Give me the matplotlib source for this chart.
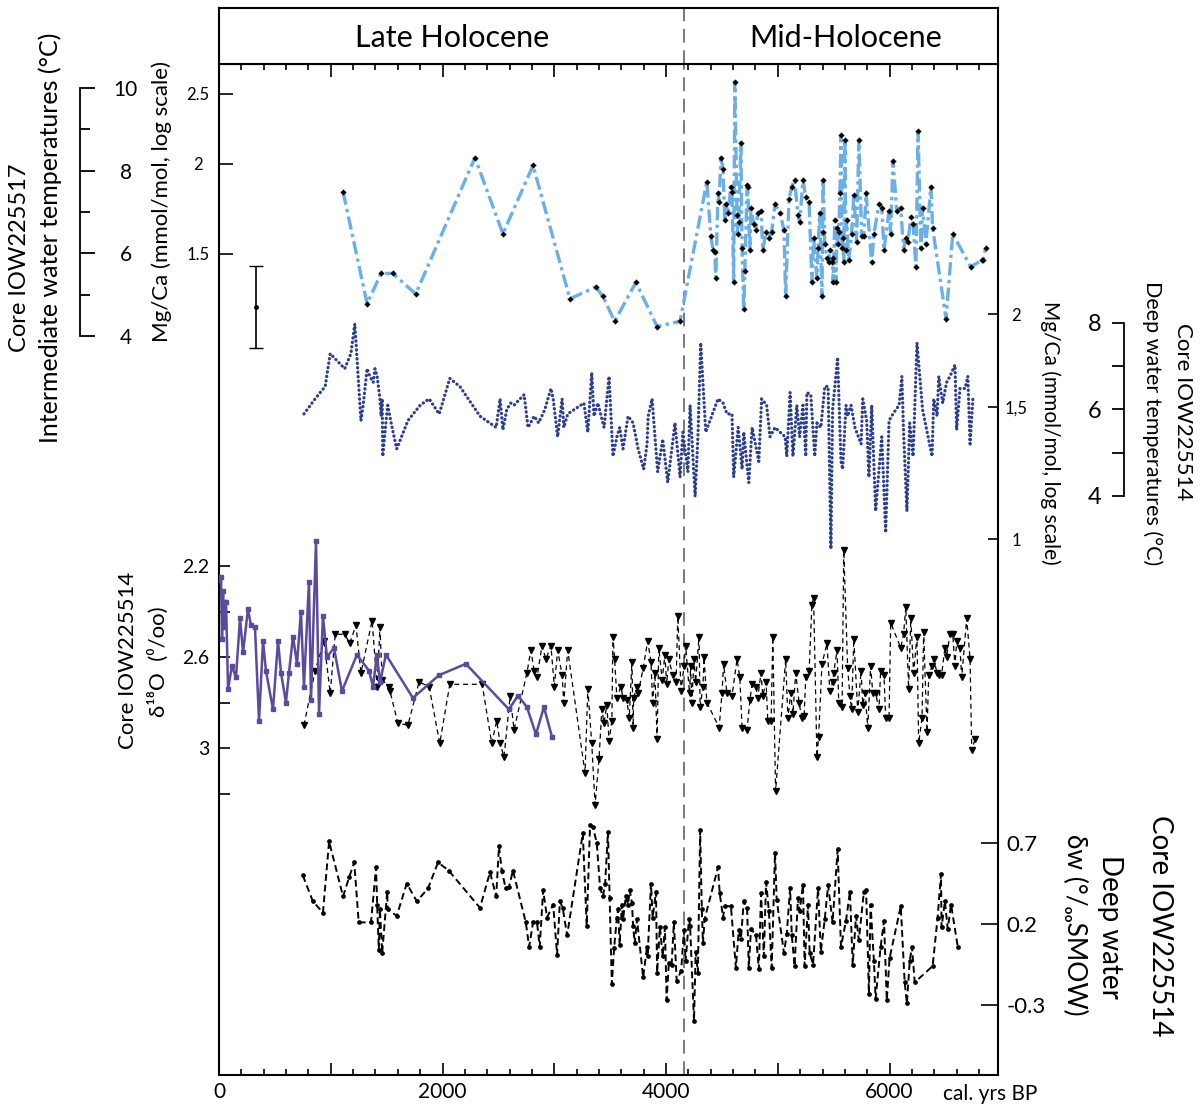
import numpy as np
import matplotlib
matplotlib.use('Agg')
import matplotlib.pyplot as plt
from matplotlib.ticker import FixedLocator, FuncFormatter, NullLocator

plt.rcParams['font.family'] = ['Lato', 'DejaVu Sans']

# --- data (cal. yrs BP) ---
# IOW225517 Mg/Ca (intermediate water)
LB_YEAR = [1110, 1325, 1450, 1555, 1760, 2290, 2540, 2810, 3140, 3370,
           3435, 3540, 3730, 3920, 4125, 4365, 4400, 4420, 4435, 4445,
           4465, 4475, 4490, 4510, 4525, 4535, 4555, 4580, 4590, 4605,
           4615, 4635, 4640, 4650, 4670, 4680, 4695, 4705, 4725, 4730,
           4750, 4760, 4785, 4805, 4820, 4850, 4865, 4895, 4920, 4945,
           4975, 5020, 5055, 5070, 5100, 5125, 5150, 5180, 5195, 5225,
           5250, 5280, 5305, 5320, 5350, 5360, 5375, 5395, 5400, 5405,
           5420, 5440, 5455, 5465, 5485, 5490, 5495, 5510, 5520, 5530,
           5535, 5545, 5555, 5565, 5575, 5580, 5590, 5600, 5610, 5615,
           5635, 5660, 5680, 5705, 5725, 5750, 5770, 5790, 5840, 5860,
           5905, 5930, 5950, 5995, 6010, 6030, 6065, 6100, 6125, 6145,
           6165, 6190, 6210, 6235, 6255, 6280, 6295, 6325, 6370, 6385,
           6505, 6565, 6725, 6825, 6835, 6860]
LB_MGCA = [1.83, 1.28, 1.41, 1.41, 1.32, 2.04, 1.60, 1.99, 1.30, 1.35,
           1.31, 1.21, 1.37, 1.19, 1.21, 1.89, 1.59, 1.52, 1.51, 1.39,
           1.82, 1.77, 2.04, 1.97, 1.67, 1.76, 1.71, 1.86, 1.83, 1.37,
           2.60, 1.70, 1.60, 1.66, 2.14, 1.53, 1.26, 1.42, 1.87, 1.86,
           1.52, 1.74, 1.65, 1.62, 1.71, 1.72, 1.52, 1.61, 1.58, 1.61,
           1.76, 1.71, 1.62, 1.31, 1.79, 1.86, 1.90, 1.70, 1.66, 1.90,
           1.80, 1.77, 1.37, 1.58, 1.39, 1.53, 1.71, 1.31, 1.61, 1.90,
           1.55, 1.48, 1.46, 1.52, 1.46, 1.48, 1.37, 1.67, 1.37, 1.63,
           1.55, 1.61, 1.82, 2.19, 1.53, 1.58, 1.46, 2.16, 1.52, 1.67,
           1.47, 1.60, 1.81, 1.56, 2.16, 1.59, 1.59, 1.82, 1.46, 1.60,
           1.76, 1.74, 1.52, 1.72, 1.60, 2.02, 1.72, 1.74, 1.52, 1.58,
           1.56, 1.69, 1.65, 1.44, 2.22, 1.53, 1.74, 1.55, 1.86, 1.63,
           1.22, 1.60, 1.44, 1.47, 1.47, 1.53]

# IOW225514 Mg/Ca (deep water)
DB_YEAR = [760, 860, 950, 995, 1125, 1180, 1215, 1270, 1290, 1325,
           1350, 1380, 1395, 1415, 1440, 1450, 1460, 1465, 1495, 1510,
           1540, 1590, 1690, 1800, 1880, 1970, 2065, 2155, 2335, 2480,
           2515, 2540, 2575, 2610, 2640, 2730, 2765, 2820, 2860, 2915,
           2970, 2990, 3030, 3070, 3085, 3120, 3265, 3300, 3335, 3355,
           3390, 3445, 3490, 3525, 3560, 3585, 3615, 3660, 3705, 3750,
           3800, 3830, 3840, 3875, 3925, 3970, 4015, 4080, 4125, 4150,
           4195, 4215, 4260, 4285, 4310, 4355, 4465, 4510, 4545, 4590,
           4605, 4645, 4680, 4695, 4740, 4770, 4830, 4855, 4900, 4930,
           4975, 5065, 5080, 5110, 5135, 5170, 5195, 5225, 5250, 5260,
           5295, 5330, 5350, 5385, 5420, 5450, 5475, 5490, 5535, 5565,
           5580, 5610, 5625, 5655, 5690, 5745, 5760, 5795, 5815, 5840,
           5875, 5930, 5965, 5995, 6030, 6085, 6110, 6125, 6155, 6180,
           6210, 6245, 6295, 6380, 6395, 6425, 6440, 6475, 6510, 6540,
           6585, 6600, 6630, 6675, 6700, 6720, 6745]
DB_MGCA = [1.47, 1.54, 1.60, 1.77, 1.69, 1.77, 1.94, 1.44, 1.51, 1.69,
           1.65, 1.62, 1.69, 1.65, 1.54, 1.46, 1.54, 1.29, 1.44, 1.51,
           1.43, 1.32, 1.44, 1.51, 1.54, 1.47, 1.64, 1.60, 1.46, 1.41,
           1.54, 1.40, 1.49, 1.52, 1.51, 1.56, 1.41, 1.46, 1.43, 1.49,
           1.59, 1.54, 1.37, 1.54, 1.41, 1.47, 1.52, 1.39, 1.67, 1.46,
           1.52, 1.41, 1.65, 1.29, 1.37, 1.41, 1.32, 1.46, 1.43, 1.32,
           1.24, 1.34, 1.46, 1.54, 1.23, 1.36, 1.19, 1.43, 1.21, 1.39,
           1.23, 1.51, 1.14, 1.37, 1.83, 1.39, 1.54, 1.52, 1.47, 1.47,
           1.21, 1.41, 1.24, 1.39, 1.19, 1.41, 1.27, 1.54, 1.51, 1.37,
           1.41, 1.37, 1.29, 1.57, 1.29, 1.51, 1.37, 1.51, 1.29, 1.57,
           1.56, 1.29, 1.43, 1.41, 1.60, 1.60, 0.97, 1.49, 1.75, 1.27,
           1.24, 1.51, 1.46, 1.51, 1.41, 1.34, 1.54, 1.44, 1.21, 1.51,
           1.09, 1.37, 1.02, 1.44, 1.47, 1.51, 1.65, 1.39, 1.09, 1.43,
           1.29, 1.83, 1.49, 1.29, 1.54, 1.46, 1.65, 1.52, 1.62, 1.65,
           1.71, 1.40, 1.59, 1.59, 1.65, 1.34, 1.54]

# IOW225514 d18O (triangles)
O18_YEAR = [760, 860, 940, 995, 1040, 1125, 1170, 1225, 1270, 1370,
            1415, 1440, 1460, 1520, 1530, 1600, 1690, 1790, 1880, 1975,
            2065, 2355, 2440, 2485, 2515, 2550, 2605, 2640, 2755, 2790,
            2820, 2845, 2890, 2925, 2970, 3000, 3030, 3070, 3085, 3120,
            3275, 3300, 3335, 3365, 3400, 3425, 3445, 3470, 3490, 3515,
            3525, 3540, 3560, 3595, 3615, 3650, 3670, 3695, 3705, 3710,
            3740, 3750, 3795, 3835, 3865, 3880, 3900, 3920, 3935, 3965,
            3990, 4005, 4025, 4060, 4090, 4105, 4135, 4160, 4175, 4210,
            4220, 4230, 4250, 4265, 4295, 4305, 4330, 4340, 4365, 4475,
            4500, 4515, 4545, 4590, 4635, 4660, 4680, 4725, 4750, 4770,
            4805, 4820, 4850, 4865, 4895, 4910, 4940, 4955, 4980, 5070,
            5090, 5115, 5135, 5160, 5190, 5215, 5235, 5250, 5280, 5305,
            5320, 5350, 5365, 5395, 5440, 5465, 5490, 5500, 5530, 5545,
            5575, 5590, 5625, 5645, 5660, 5680, 5715, 5745, 5760, 5780,
            5805, 5830, 5850, 5875, 5905, 5920, 5950, 5965, 5995, 6010,
            6100, 6125, 6145, 6170, 6190, 6215, 6245, 6260, 6290, 6305,
            6335, 6350, 6380, 6395, 6425, 6440, 6465, 6495, 6510, 6540,
            6565, 6585, 6600, 6630, 6645, 6690, 6720, 6735, 6765]
O18_VAL = [2.90, 2.66, 2.53, 2.76, 2.50, 2.50, 2.54, 2.46, 2.67, 2.44,
           2.73, 2.47, 2.70, 2.73, 2.75, 2.89, 2.90, 2.71, 2.73, 2.98,
           2.72, 2.72, 2.98, 2.88, 2.98, 3.04, 2.77, 2.92, 2.67, 2.57,
           2.66, 2.69, 2.55, 2.61, 2.55, 2.73, 2.57, 2.68, 2.80, 2.57,
           3.11, 2.74, 2.98, 3.25, 3.05, 2.83, 2.89, 2.81, 2.97, 2.88,
           2.51, 2.61, 2.78, 2.73, 2.78, 2.79, 2.87, 2.62, 2.91, 2.78,
           2.73, 2.76, 2.65, 2.53, 2.62, 2.80, 2.67, 2.96, 2.56, 2.70,
           2.59, 2.72, 2.61, 2.68, 2.71, 2.42, 2.75, 2.64, 2.55, 2.76,
           2.64, 2.80, 2.61, 2.71, 2.51, 2.82, 2.73, 2.60, 2.80, 2.91,
           2.76, 2.63, 2.76, 2.77, 2.61, 2.69, 2.91, 2.92, 2.79, 2.72,
           2.73, 2.78, 2.67, 2.77, 2.71, 2.88, 2.88, 2.51, 3.19, 2.61,
           2.87, 2.76, 2.85, 2.67, 2.80, 2.87, 2.86, 2.69, 2.66, 2.37,
           2.34, 3.04, 2.95, 2.63, 2.54, 2.75, 2.71, 2.67, 2.57, 2.80,
           2.82, 2.13, 2.65, 2.77, 2.83, 2.52, 2.84, 2.66, 2.81, 2.76,
           2.91, 2.64, 2.76, 2.76, 2.83, 2.66, 2.68, 2.87, 2.87, 2.45,
           2.56, 2.50, 2.38, 2.74, 2.43, 2.67, 2.51, 2.98, 2.87, 2.49,
           2.93, 2.68, 2.64, 2.61, 2.67, 2.68, 2.68, 2.56, 2.60, 2.50,
           2.50, 2.64, 2.53, 2.56, 2.69, 2.43, 2.61, 3.01, 2.96]

# second d18O record (purple squares)
PU_YEAR = [0, 18, 27, 36, 45, 54, 63, 81, 116, 152,
           188, 215, 259, 286, 322, 358, 394, 420, 483, 528,
           555, 599, 626, 662, 698, 733, 760, 805, 823, 868,
           895, 930, 966, 1029, 1100, 1234, 1342, 1378, 1413, 1440,
           1494, 1735, 1968, 2209, 2594, 2675, 2755, 2836, 2907, 2979]
PU_VAL = [2.26, 2.25, 2.52, 2.31, 2.47, 2.36, 2.36, 2.74, 2.64, 2.69,
          2.43, 2.58, 2.39, 2.46, 2.47, 2.88, 2.53, 2.66, 2.83, 2.53,
          2.67, 2.80, 2.67, 2.51, 2.63, 2.40, 2.73, 2.27, 2.79, 2.09,
          2.85, 2.42, 2.60, 2.56, 2.75, 2.59, 2.66, 2.73, 2.59, 2.71,
          2.59, 2.78, 2.68, 2.63, 2.83, 2.77, 2.82, 2.94, 2.82, 2.95]

# IOW225514 deep water dw
DW_YEAR = [750, 840, 930, 985, 1110, 1165, 1210, 1250, 1360, 1405,
           1415, 1430, 1440, 1460, 1505, 1510, 1590, 1680, 1770, 1870,
           1960, 2055, 2335, 2425, 2480, 2505, 2530, 2565, 2595, 2630,
           2745, 2775, 2810, 2845, 2870, 2900, 2935, 2990, 3025, 3050,
           3075, 3115, 3255, 3290, 3320, 3345, 3380, 3410, 3435, 3455,
           3480, 3495, 3515, 3535, 3560, 3570, 3585, 3605, 3615, 3640,
           3660, 3675, 3695, 3705, 3720, 3740, 3795, 3830, 3835, 3865,
           3880, 3910, 3920, 3945, 3970, 3990, 4005, 4025, 4050, 4070,
           4095, 4135, 4160, 4175, 4205, 4215, 4250, 4265, 4285, 4305,
           4320, 4330, 4345, 4465, 4480, 4510, 4525, 4580, 4625, 4650,
           4670, 4695, 4725, 4740, 4760, 4805, 4830, 4850, 4875, 4895,
           4920, 4945, 4975, 4990, 5055, 5080, 5110, 5125, 5150, 5180,
           5195, 5225, 5240, 5270, 5285, 5315, 5360, 5385, 5420, 5450,
           5490, 5535, 5565, 5610, 5645, 5670, 5700, 5725, 5770, 5790,
           5815, 5830, 5860, 5875, 5920, 5950, 5975, 6000, 6100, 6135,
           6155, 6180, 6200, 6225, 6385, 6430, 6460, 6465, 6495, 6520,
           6550, 6610]
DW_VAL = [0.50, 0.34, 0.27, 0.71, 0.37, 0.49, 0.58, 0.21, 0.21, 0.55,
          0.32, 0.04, 0.29, 0.02, 0.40, 0.29, 0.25, 0.45, 0.34, 0.42,
          0.58, 0.53, 0.30, 0.52, 0.37, 0.68, 0.53, 0.42, 0.43, 0.53,
          0.21, 0.06, 0.21, 0.21, 0.06, 0.41, 0.24, 0.32, 0.01, 0.34,
          0.30, 0.13, 0.76, 0.19, 0.81, 0.80, 0.70, 0.42, 0.37, 0.45,
          0.77, 0.36, -0.17, 0.05, 0.24, 0.29, 0.07, 0.32, 0.23, 0.37,
          0.32, 0.41, 0.33, 0.19, 0.08, 0.23, -0.13, 0.06, 0.00, 0.45,
          0.24, 0.40, -0.10, 0.18, 0.00, 0.18, -0.27, -0.04, -0.05, 0.21,
          -0.15, -0.09, 0.16, -0.03, 0.23, 0.19, -0.40, 0.03, -0.10, 0.78,
          0.29, 0.08, 0.23, 0.55, 0.39, 0.24, 0.31, 0.31, -0.07, 0.16,
          0.11, 0.34, 0.30, -0.07, 0.17, 0.13, -0.08, 0.39, 0.00, 0.46,
          0.28, -0.07, 0.64, 0.35, 0.02, 0.14, 0.42, 0.13, -0.06, 0.36,
          0.28, 0.44, -0.06, 0.32, 0.02, -0.05, 0.42, 0.03, 0.23, 0.44,
          0.21, 0.66, 0.06, 0.22, 0.40, -0.05, 0.25, 0.10, 0.40, 0.41,
          -0.23, 0.32, -0.03, -0.26, 0.06, 0.22, -0.27, -0.01, 0.31, -0.16,
          -0.29, -0.03, 0.06, -0.16, -0.06, 0.24, 0.51, 0.18, 0.34, 0.17,
          0.32, 0.06]

# temperature error bar (IOW225517)
ERR_YEAR, ERR_T, ERR_DT = 330, 4.7, 1.0
EVENT_YEAR = 4160
XMAX = 6970

# --- layout helpers (pixel geometry of the reference) ---
W, H = 1201, 1111
X0, X1, Y0, Y1 = 219, 998, 64, 1075


def box(x0, y0, x1, y1):
    return [x0 / W, 1 - y1 / H, (x1 - x0) / W, (y1 - y0) / H]


def ylim_for(va, pa, vb, pb, log=False):
    # y-limits of the full-height frame that put va at row pa and vb at row pb
    f = np.log10 if log else (lambda v: v)
    a, b = f(va), f(vb)
    k = (a - b) / (pb - pa)
    top = a + (pa - Y0) * k
    bottom = b - (Y1 - pb) * k
    if log:
        return 10 ** bottom, 10 ** top
    return bottom, top


def ptext(x, y, s, **kw):
    fig.text(x / W, 1 - y / H, s, ha='center', va='center', **kw)


fig = plt.figure(figsize=(W / 100, H / 100), dpi=100)

ax = fig.add_axes(box(X0, Y0, X1, Y1))
ax.set_xlim(0, XMAX)
ax.set_yticks([])
for s in ax.spines.values():
    s.set_linewidth(1.5)
ax.xaxis.set_major_locator(FixedLocator(range(0, 7000, 1000)))
ax.xaxis.set_minor_locator(FixedLocator(range(0, 7000, 200)))
ax.xaxis.set_major_formatter(FuncFormatter(lambda v, p: f'{v:.0f}' if v % 2000 == 0 else ''))
ax.tick_params(axis='x', which='both', direction='in', top=True, width=1.2,
               labelsize=15, pad=5)
ax.tick_params(axis='x', which='major', length=9)
ax.tick_params(axis='x', which='minor', length=4)
ax.axvline(EVENT_YEAR, color='#555555', lw=1.1, dashes=(9, 5))

hd = fig.add_axes(box(X0, 8, X1, Y0))
hd.set_xlim(0, XMAX)
hd.set_xticks([])
hd.set_yticks([])
for s in hd.spines.values():
    s.set_linewidth(1.5)
hd.axvline(EVENT_YEAR, color='#555555', lw=1.1, dashes=(9, 5))
hd.text(0.299, 0.47, 'Late Holocene', transform=hd.transAxes, ha='center', va='center', fontsize=22)
hd.text(0.805, 0.47, 'Mid-Holocene', transform=hd.transAxes, ha='center', va='center', fontsize=22)


def overlay(lims, log=False):
    o = fig.add_axes(box(X0, Y0, X1, Y1), sharex=ax)
    o.patch.set_visible(False)
    for s in o.spines.values():
        s.set_visible(False)
    o.tick_params(axis='x', which='both', bottom=False, top=False, labelbottom=False)
    if log:
        o.set_yscale('log')
    o.set_ylim(*lims)
    o.yaxis.set_minor_locator(NullLocator())
    return o


# deep water dw (bottom)
dw = overlay(ylim_for(0.7, 843, -0.3, 1005))
dw.plot(DW_YEAR, DW_VAL, color='k', lw=1.4, dashes=(3.5, 2), marker='o', ms=2.4)
dw.yaxis.tick_right()
dw.yaxis.set_major_locator(FixedLocator([-0.3, 0.2, 0.7]))
dw.yaxis.set_major_formatter(FuncFormatter(lambda v, p: f'{v:g}'))
dw.tick_params(axis='y', direction='in', length=12, width=1.2, labelsize=16, pad=6)

# d18O
d18 = overlay(ylim_for(2.2, 566, 3.0, 748))
d18.plot(O18_YEAR, O18_VAL, color='k', lw=0.9, dashes=(4, 3), marker='v', ms=4)
d18.plot(PU_YEAR, PU_VAL, color='#5B4B9E', lw=1.8, marker='s', ms=3.2)
d18.yaxis.set_major_locator(FixedLocator([2.2, 2.6, 3.0]))
d18.yaxis.set_minor_locator(FixedLocator([2.4, 2.8, 3.2]))
d18.yaxis.set_major_formatter(FuncFormatter(lambda v, p: f'{v:g}'))
d18.tick_params(axis='y', which='both', direction='in', length=8, width=1.2, labelsize=14, pad=7)

# Mg/Ca deep water (dark blue, dotted)
db = overlay(ylim_for(2, 314, 1, 539, log=True), log=True)
db.plot(DB_YEAR, DB_MGCA, color='#2C3F8E', lw=2.3, linestyle=(0, (0.1, 1.3)),
        dash_capstyle='round')
db.yaxis.tick_right()
db.yaxis.set_major_locator(FixedLocator([1, 1.5, 2]))
db.yaxis.set_major_formatter(FuncFormatter(lambda v, p: f'{v:g}'.replace('.', ',')))
db.tick_params(axis='y', direction='in', length=7, width=1.2, labelsize=12, pad=13)
plt.setp(db.get_yticklabels(), ha='center')

# Mg/Ca intermediate water (light blue, dash-dot)
lb = overlay(ylim_for(2.5, 94, 1.5, 254, log=True), log=True)
lb.plot(LB_YEAR, LB_MGCA, color='#6AB0E6', lw=2.4, dashes=(4, 1.3, 1, 1.3),
        marker=(4, 1, 0), ms=3.6, mfc='k', mec='k')
lb.yaxis.set_major_locator(FixedLocator([1.5, 2, 2.5]))
lb.yaxis.set_major_formatter(FuncFormatter(lambda v, p: f'{v:g}'))
lb.tick_params(axis='y', direction='in', length=10, width=1.2, labelsize=12, pad=15)
plt.setp(lb.get_yticklabels(), ha='center')

# temperature error bar
tw = overlay(ylim_for(10, 88, 4, 336))
tw.set_yticks([])
tw.errorbar(ERR_YEAR, ERR_T, yerr=ERR_DT, fmt='o', ms=2.5, color='k', capsize=5, lw=1.2)

# temperature bracket, IOW225517
ti = fig.add_axes(box(40, 88, 80, 336))
ti.patch.set_visible(False)
for k, s in ti.spines.items():
    s.set_visible(k == 'right')
ti.spines['right'].set_linewidth(1.3)
ti.set_xticks([])
ti.set_ylim(4, 10)
ti.yaxis.tick_right()
ti.yaxis.set_major_locator(FixedLocator([4, 6, 8, 10]))
ti.yaxis.set_minor_locator(FixedLocator([5, 7, 9]))
ti.tick_params(axis='y', which='major', direction='out', length=11, width=1.3, labelsize=15, pad=22)
ti.tick_params(axis='y', which='minor', direction='out', length=7, width=1.3)
plt.setp(ti.get_yticklabels(), ha='center')

# temperature bracket, IOW225514
td = fig.add_axes(box(1124, 323, 1164, 496))
td.patch.set_visible(False)
for k, s in td.spines.items():
    s.set_visible(k == 'left')
td.spines['left'].set_linewidth(1.3)
td.set_xticks([])
td.set_ylim(4, 8)
td.yaxis.set_major_locator(FixedLocator([4, 6, 8]))
td.yaxis.set_minor_locator(FixedLocator([5, 7]))
td.tick_params(axis='y', which='both', direction='out', length=9, width=1.3, labelsize=17, pad=12)
plt.setp(td.get_yticklabels(), ha='center')

# axis titles
ptext(20, 258, 'Core IOW225517', rotation=90, fontsize=17)
ptext(50, 238, 'Intermediate water temperatures (°C)', rotation=90, fontsize=18)
ptext(162, 201, 'Mg/Ca (mmol/mol, log scale)', rotation=90, fontsize=16)
ptext(128, 660, 'Core IOW225514', rotation=90, fontsize=16)
ptext(158, 662, 'δ¹⁸O  (⁰/oo)', rotation=90, fontsize=16)
ptext(1050, 433, 'Mg/Ca (mmol/mol, log scale)', rotation=270, fontsize=15)
ptext(1152, 423, 'Deep water temperatures (°C)', rotation=270, fontsize=15.5)
ptext(1183, 412, 'Core IOW225514', rotation=270, fontsize=16)
ptext(1075, 925, 'δw (°/ₒₒSMOW)', rotation=270, fontsize=19)
ptext(1110, 927, 'Deep water', rotation=270, fontsize=20)
ptext(1160, 926, 'Core IOW225514', rotation=270, fontsize=20)
ptext(990, 1094, 'cal. yrs BP', fontsize=15)

fig.savefig('out.png', dpi=100)
